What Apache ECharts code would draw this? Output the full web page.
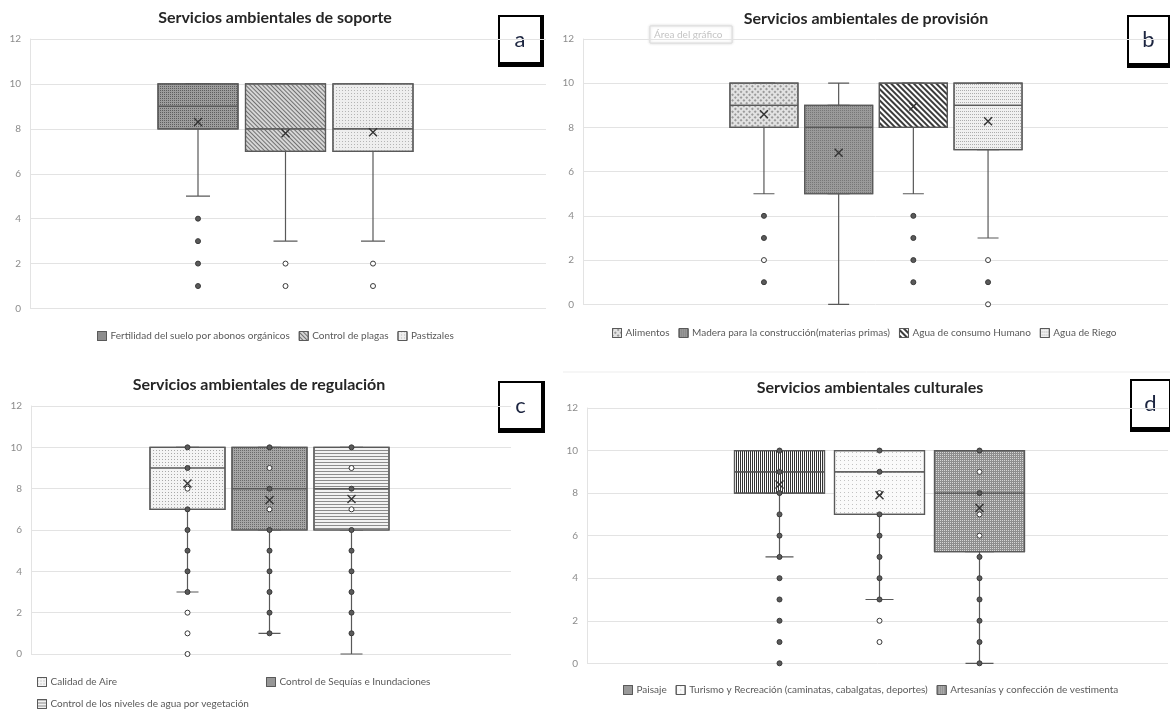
<!DOCTYPE html>
<html>
<head>
<meta charset="utf-8">
<script src="https://cdn.jsdelivr.net/npm/echarts@6/dist/echarts.min.js"></script>
<style>
  html, body { margin: 0; padding: 0; background: #fff; }
  #main { width: 1170px; height: 711px; }
</style>
</head>
<body>
<div id="main"></div>
<script>
// ---- a: soporte ----
var catsA = ['Fertilidad del suelo por abonos orgánicos', 'Control de plagas', 'Pastizales'];
var boxA = [[5, 8, 9, 10, 10], [3, 7, 8, 10, 10], [3, 7, 8, 10, 10]]; // min, q1, median, q3, max
var meanA = [8.3, 7.8, 7.85];
var ptsA = [[4, 3, 2, 1], [2, 1], [2, 1]];
var hollowA = [[], [2, 1], [2, 1]];

// ---- b: provision ----
var catsB = ['Alimentos', 'Madera para la construcción(materias primas)', 'Agua de consumo Humano', 'Agua de Riego'];
var boxB = [[5, 8, 9, 10, 10], [0, 5, 8, 9, 10], [5, 8, 10, 10, 10], [3, 7, 9, 10, 10]];
var meanB = [8.6, 6.85, 8.95, 8.28];
var ptsB = [[4, 3, 2, 1], [], [4, 3, 2, 1], [2, 1, 0]];
var hollowB = [[2], [], [], [2, 0]];

// ---- c: regulacion ----
var catsC = ['Calidad de Aire', 'Control de Sequías e Inundaciones', 'Control de los niveles de agua por vegetación'];
var boxC = [[3, 7, 9, 10, 10], [1, 6, 8, 10, 10], [0, 6, 8, 10, 10]];
var meanC = [8.25, 7.45, 7.5];
var ptsC = [[10, 9, 8, 7, 6, 5, 4, 3, 2, 1, 0], [10, 9, 8, 7, 6, 5, 4, 3, 2, 1], [10, 9, 8, 7, 6, 5, 4, 3, 2, 1]];
var hollowC = [[8, 2, 1, 0], [9, 7], [9, 7]];

// ---- d: culturales ----
var catsD = ['Paisaje', 'Turismo y Recreación (caminatas, cabalgatas, deportes)', 'Artesanías y confección de vestimenta'];
var boxD = [[5, 8, 9, 10, 10], [3, 7, 9, 10, 10], [0, 5.25, 8, 10, 10]];
var meanD = [8.4, 7.9, 7.3];
var ptsD = [[10, 9, 8, 7, 6, 5, 4, 3, 2, 1, 0], [10, 9, 8, 7, 6, 5, 4, 3, 2, 1], [10, 9, 8, 7, 6, 5, 4, 3, 2, 1, 0]];
var hollowD = [[], [8, 2, 1], [9, 7, 6]];

var titles = ['Servicios ambientales de soporte', 'Servicios ambientales de provisión',
  'Servicios ambientales de regulación', 'Servicios ambientales culturales'];
var letters = ['a', 'b', 'c', 'd'];

var FONT = 'Lato, "Open Sans", sans-serif';
var LINE = '#595959';

// fill patterns (excel style hatches)
function dec(color, sym, dx, dy, rot) {
  return { color: color, symbol: sym, symbolSize: 1, dashArrayX: dx, dashArrayY: dy, rotation: rot || 0 };
}
var lookA = [
  { fill: '#9d9d9d', decal: dec('#5e5e5e', 'rect', [1, 1], [1, 1]) },
  { fill: '#d6d6d6', decal: dec('#707070', 'rect', [1, 0], [1, 2], Math.PI / 4) },
  { fill: '#eeeeee', decal: dec('#b4b4b4', 'rect', [1, 2], [1, 2]) }
];
var lookB = [
  { fill: '#e2e2e2', decal: dec('#9a9a9a', 'rect', [2, 2], [2, 2], Math.PI / 4) },
  { fill: '#9a9a9a', decal: dec('#777777', 'rect', [1, 1], [1, 1]) },
  { fill: '#ffffff', decal: dec('#3c3c3c', 'rect', [1, 0], [2, 2], Math.PI / 4) },
  { fill: '#f0f0f0', decal: dec('#acacac', 'rect', [1, 1], [1, 2]) }
];
var lookC = [
  { fill: '#f4f4f4', decal: dec('#a8a8a8', 'rect', [1, 2], [1, 2]) },
  { fill: '#a6a6a6', decal: dec('#6a6a6a', 'rect', [1, 1], [1, 1]) },
  { fill: '#f2f2f2', decal: dec('#8c8c8c', 'rect', [1, 0], [1, 2]) }
];
var lookD = [
  { fill: '#ffffff', decal: dec('#333333', 'rect', [1, 1], [1, 0]) },
  { fill: '#fafafa', decal: dec('#c2c2c2', 'rect', [1, 3], [1, 3]) },
  { fill: '#8e8e8e', decal: dec('#d6d6d6', 'rect', [1, 1], [1, 1]) }
];

var panels = [
  { cats: catsA, box: boxA, mean: meanA, pts: ptsA, hollow: hollowA, look: lookA,
    plot: [30, 39, 546, 308.5], center: 285.5, step: 87.5, boxW: 80, capW: 24,
    title: [275, 18], letterBox: [498, 15, 46, 52],
    legends: [{ items: [0, 1, 2], left: 92, top: 326 }] },
  { cats: catsB, box: boxB, mean: meanB, pts: ptsB, hollow: hollowB, look: lookB,
    plot: [583, 39, 1168, 304.3], center: 876, step: 74.7, boxW: 68, capW: 21,
    title: [866, 19], letterBox: [1127, 15, 45, 53],
    legends: [{ items: [0, 1, 2, 3], left: 607, top: 323 }] },
  { cats: catsC, box: boxC, mean: meanC, pts: ptsC, hollow: hollowC, look: lookC,
    plot: [31, 406, 511, 654], center: 269.5, step: 82, boxW: 75, capW: 22,
    title: [259, 385], letterBox: [498, 381, 47, 52],
    legends: [{ items: [0], left: 32, top: 672 }, { items: [1], left: 261, top: 672 }, { items: [2], left: 32, top: 694 }] },
  { cats: catsD, box: boxD, mean: meanD, pts: ptsD, hollow: hollowD, look: lookD,
    plot: [587, 408, 1168, 663.3], center: 879.5, step: 100, boxW: 90, capW: 28,
    title: [870, 388], letterBox: [1130, 379, 43, 53],
    legends: [{ items: [0, 1, 2], left: 618, top: 680 }] }
];

var option = {
  animation: false,
  backgroundColor: '#fff',
  grid: [], xAxis: [], yAxis: [], series: [], legend: [], graphic: []
};

panels.forEach(function (p, i) {
  var n = p.cats.length;
  var g0 = option.grid.length;
  var h = p.plot[3] - p.plot[1];
  // plot area with gridlines
  option.grid.push({ left: p.plot[0], top: p.plot[1], width: p.plot[2] - p.plot[0], height: h });
  // narrower grid for the boxes, centred
  option.grid.push({ left: p.center - p.step * n / 2, top: p.plot[1], width: p.step * n, height: h });

  var x0 = option.xAxis.length;
  option.xAxis.push({ gridIndex: g0, type: 'category', data: [''], show: false });
  option.xAxis.push({ gridIndex: g0 + 1, type: 'category', data: p.cats, show: false });
  option.xAxis.push({ gridIndex: g0 + 1, type: 'category', data: p.cats, show: false });

  var y0 = option.yAxis.length;
  option.yAxis.push({
    gridIndex: g0, type: 'value', min: 0, max: 12, interval: 2,
    axisLine: { show: true, lineStyle: { color: '#e3e3e3' } },
    axisTick: { show: false },
    axisLabel: { color: '#8c8c8c', fontSize: 10, fontFamily: FONT, margin: 9 },
    splitLine: { lineStyle: { color: '#e3e3e3', width: 1 } }
  });
  option.yAxis.push({ gridIndex: g0 + 1, type: 'value', min: 0, max: 12, show: false });

  // whiskers with short caps
  option.series.push({
    type: 'boxplot', xAxisIndex: x0 + 2, yAxisIndex: y0 + 1, silent: true, z: 2,
    boxWidth: [p.capW, p.capW], data: p.box,
    itemStyle: { color: '#fff', borderColor: LINE, borderWidth: 1.2 }
  });
  // boxes
  option.series.push({
    type: 'boxplot', xAxisIndex: x0 + 1, yAxisIndex: y0 + 1, silent: true, z: 3,
    boxWidth: [p.boxW, p.boxW],
    data: p.box.map(function (d, j) {
      return {
        value: [d[1], d[1], d[2], d[3], d[3]],
        itemStyle: { color: p.look[j].fill, decal: p.look[j].decal, borderColor: LINE, borderWidth: 1.2 }
      };
    })
  });
  // points
  var pts = [];
  p.pts.forEach(function (list, j) {
    list.forEach(function (v) {
      var hol = p.hollow[j].indexOf(v) >= 0;
      pts.push({ value: [j, v], itemStyle: { color: hol ? '#ffffff' : '#5a5a5a' } });
    });
  });
  option.series.push({
    type: 'scatter', xAxisIndex: x0 + 1, yAxisIndex: y0 + 1, silent: true, z: 5,
    symbolSize: 5, data: pts,
    itemStyle: { borderColor: '#3a3a3a', borderWidth: 1, opacity: 1 }
  });
  // means
  option.series.push({
    type: 'scatter', xAxisIndex: x0 + 1, yAxisIndex: y0 + 1, silent: true, z: 6,
    symbol: 'path://M0,0L10,10M10,0L0,10', symbolSize: 8,
    data: p.mean.map(function (m, j) { return [j, m]; }),
    itemStyle: { color: 'rgba(0,0,0,0)', borderColor: '#333', borderWidth: 1.4, opacity: 1 }
  });
  // legend carriers
  p.cats.forEach(function (c, j) {
    option.series.push({
      type: 'bar', name: c, xAxisIndex: x0 + 1, yAxisIndex: y0 + 1, data: [],
      itemStyle: { color: p.look[j].fill, decal: p.look[j].decal, borderColor: LINE, borderWidth: 1 }
    });
  });
  p.legends.forEach(function (lg) {
    option.legend.push({
      data: lg.items.map(function (k) { return p.cats[k]; }),
      left: lg.left, top: lg.top, orient: 'horizontal',
      icon: 'rect', itemWidth: 9, itemHeight: 9, itemGap: 9, selectedMode: false,
      itemStyle: { borderColor: LINE, borderWidth: 1 },
      textStyle: { color: '#595959', fontSize: 10, fontFamily: FONT, padding: [0, 0, 0, -1] }
    });
  });

  // title
  option.graphic.push({
    type: 'text', x: p.title[0], y: p.title[1],
    style: { text: titles[i], font: 'bold 16px ' + FONT, fill: '#262626',
      align: 'center', verticalAlign: 'middle', textAlign: 'center', textVerticalAlign: 'middle' }
  });
  // letter box
  var lb = p.letterBox;
  option.graphic.push({ type: 'rect', shape: { x: lb[0], y: lb[1], width: lb[2], height: lb[3] }, style: { fill: '#000' } });
  option.graphic.push({ type: 'rect', shape: { x: lb[0] + 2, y: lb[1] + 2, width: lb[2] - 6, height: lb[3] - 7 }, style: { fill: '#fff' } });
  option.graphic.push({
    type: 'text', x: lb[0] + (lb[2] - 4) / 2 + 1, y: lb[1] + (lb[3] - 5) / 2 + 1,
    style: { text: letters[i], font: '22px ' + FONT, fill: '#1c2540',
      align: 'center', verticalAlign: 'middle', textAlign: 'center', textVerticalAlign: 'middle' }
  });
});

// excel leftovers: chart-area tooltip and top border of panel d
option.graphic.push({ type: 'rect', shape: { x: 650, y: 26, width: 82, height: 17 },
  style: { fill: '#fff', stroke: '#dcdcdc', lineWidth: 1, shadowBlur: 3, shadowColor: 'rgba(0,0,0,0.15)' } });
option.graphic.push({ type: 'text', x: 654, y: 34.5,
  style: { text: 'Área del gráfico', font: '10px ' + FONT, fill: '#c4c4c4', verticalAlign: 'middle', textVerticalAlign: 'middle' } });
option.graphic.push({ type: 'line', shape: { x1: 563, y1: 372, x2: 1170, y2: 372 }, style: { stroke: '#ededed', lineWidth: 1 } });

var chart = echarts.init(document.getElementById('main'), null, { renderer: 'canvas' });
chart.setOption(option);
</script>
</body>
</html>
